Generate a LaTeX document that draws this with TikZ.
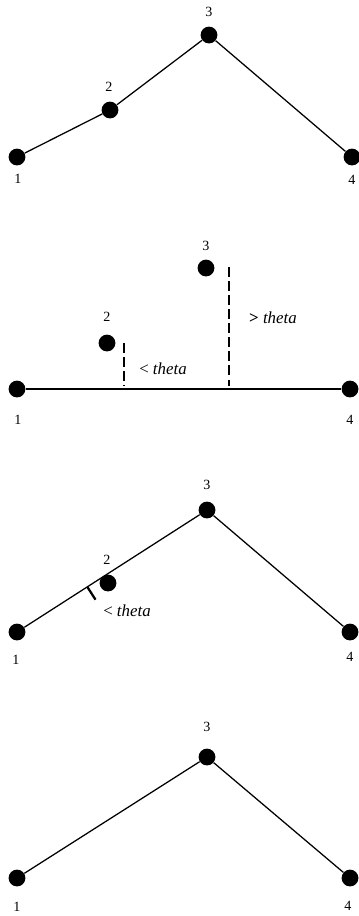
\documentclass[tikz,border=0pt]{standalone}
\usepackage{fontspec}
\setmainfont{Liberation Serif}
\usetikzlibrary{calc}
\tikzset{
  pt/.style={circle,fill=black,inner sep=0pt,minimum size=0.42cm},
  num/.style={font=\fontsize{10}{12}\selectfont,inner sep=0pt},
  lbl/.style={font=\fontsize{12}{14}\selectfont,inner sep=0pt},
  seg/.style={line width=0.9pt},
  gapline/.style={line width=1.9pt,dash pattern=on 7pt off 3pt},
  tick/.style={line width=1.6pt}
}
\begin{document}
\begin{tikzpicture}[x=0.025cm,y=-0.025cm]
\useasboundingbox (0,0) rectangle (359,916);
% first row: 1-2-3-4
\node[pt] (a1) at (17,157) {};
\node[pt] (a2) at (110,110) {};
\node[pt] (a3) at (209,35) {};
\node[pt] (a4) at (352,157) {};
\draw[seg] (a1) -- (a2) -- (a3) -- (a4);
\foreach \n/\x/\y in {1/18/179,2/109/87,3/209/12,4/352/180}
  \node[num] (na\n) at (\x,\y) {\n};
% second row: distances to the line 1-4
\node[pt] (b1) at (17,389) {};
\node[pt] (b2) at (107,343) {};
\node[pt] (b3) at (206,268) {};
\node[pt] (b4) at (350,389) {};
\draw[seg] (b1) -- (b4);
\coordinate (g2t) at (124,343);
\coordinate (g2b) at (124,386);
\coordinate (g3t) at (229,267);
\coordinate (g3b) at (229,386);
\draw[gapline] (g2t) -- (g2b);
\draw[gapline] (g3t) -- (g3b);
\node[lbl] (lb2) at (163,369) {< \textit{theta}};
\node[lbl] (lb3) at (273,318) {\textbf{>} \textit{theta}};
\foreach \n/\x/\y in {1/18/420,2/107/317,3/206/246,4/350/420}
  \node[num] (nb\n) at (\x,\y) {\n};
% third row: 2 close to the line 1-3
\node[pt] (c1) at (17,632) {};
\node[pt] (c2) at (108,583) {};
\node[pt] (c3) at (207,510) {};
\node[pt] (c4) at (350,632) {};
\draw[seg] (c1) -- (c3) -- (c4);
\coordinate (k1) at ($(c1)!0.37!(c3)$);
\coordinate (k2) at ($(k1)!0.38cm!-90:(c3)$);
\draw[tick] (k1) -- (k2);
\node[lbl] (lc2) at (127,611) {< \textit{theta}};
\foreach \n/\x/\y in {1/16/660,2/107/560,3/207/485,4/350/657}
  \node[num] (nc\n) at (\x,\y) {\n};
% last row: 2 removed
\node[pt] (d1) at (17,878) {};
\node[pt] (d3) at (207,757) {};
\node[pt] (d4) at (350,878) {};
\draw[seg] (d1) -- (d3) -- (d4);
\foreach \n/\x/\y in {1/17/907,3/207/727,4/348/906}
  \node[num] (nd\n) at (\x,\y) {\n};
\end{tikzpicture}
\end{document}
